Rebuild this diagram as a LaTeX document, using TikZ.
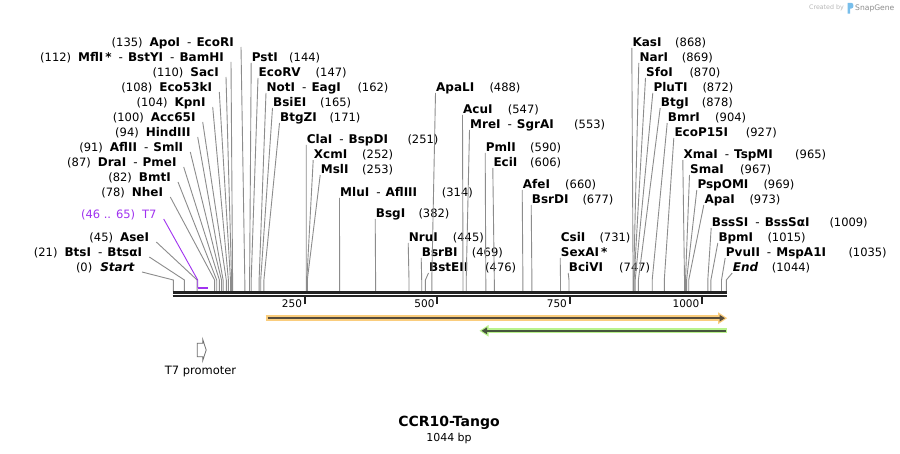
\documentclass[tikz,border=0pt]{standalone}
\usepackage{fontspec}
\setmainfont{DejaVu Sans}
\usetikzlibrary{calc,arrows.meta}
\definecolor{siteline}{RGB}{140,140,140}
\definecolor{bb}{RGB}{34,34,34}
\definecolor{purp}{RGB}{160,50,240}
\definecolor{orband}{RGB}{250,205,125}
\definecolor{grband}{RGB}{185,242,140}
\definecolor{orline}{RGB}{85,75,60}
\definecolor{grline}{RGB}{70,85,60}
\definecolor{logoblue}{RGB}{120,190,235}
\newcommand{\ensep}{\hspace{7pt}{\mdseries -}\hspace{5pt}}
% left-side label: id, end x, y, content, site x
\newcommand{\enzL}[5]{%
  \node[enz, anchor=east] (#1) at (#2,#3) {#4};
  \coordinate (#1k) at (#5,280);
  \coordinate (#1b) at (#5,291);
  \draw[site] ($(#1.east)+(7,5)$) -- (#1k) -- (#1b);
}
% top/right label: id, start x, y, name, site x, number x, number
\newcommand{\enzT}[7]{%
  \node[enz, anchor=west] (#1) at (#2,#3) {#4};
  \node[pnum, anchor=west] (#1n) at (#6,#3) {#7};
  \coordinate (#1k) at (#5,280);
  \coordinate (#1b) at (#5,291);
  \draw[site] ($(#1.west)+(-0.5,6)$) -- (#1k) -- (#1b);
}
\begin{document}
\begin{tikzpicture}[x=1pt,y=-1pt,
  enz/.style={font=\fontsize{12}{14}\selectfont\bfseries, inner sep=0pt, text height=8.6pt, text depth=0pt},
  pnum/.style={font=\fontsize{11.5}{13}\selectfont, inner sep=0pt, text height=8.6pt, text depth=0pt},
  ticklab/.style={font=\fontsize{10.5}{12}\selectfont, inner sep=0pt, text height=7.6pt, text depth=0pt},
  site/.style={draw=siteline, line width=0.9pt}]
\useasboundingbox (0,0) rectangle (900,454);
\fill[white] (0,0) rectangle (900,454);

% ---- left group
\enzL{ApoI}{234}{42}{{\mdseries\fontsize{11.5}{13}\selectfont (135)}\hspace{7pt}ApoI\ensep EcoRI}{244.8}
\enzL{MflI}{224}{57}{{\mdseries\fontsize{11.5}{13}\selectfont (112)}\hspace{7pt}MflI\,*\ensep BstYI\ensep BamHI}{232.6}
\enzL{SacI}{219}{72}{{\mdseries\fontsize{11.5}{13}\selectfont (110)}\hspace{7pt}SacI}{231.6}
\enzL{EcoFiftyThree}{212.3}{87}{{\mdseries\fontsize{11.5}{13}\selectfont (108)}\hspace{7pt}Eco53kI}{230.5}
\enzL{KpnI}{205.7}{102}{{\mdseries\fontsize{11.5}{13}\selectfont (104)}\hspace{7pt}KpnI}{228.4}
\enzL{AccSixtyFive}{195.7}{117}{{\mdseries\fontsize{11.5}{13}\selectfont (100)}\hspace{7pt}Acc65I}{226.3}
\enzL{HindIII}{190.7}{132}{{\mdseries\fontsize{11.5}{13}\selectfont (94)}\hspace{7pt}HindIII}{223.1}
\enzL{AflII}{183.3}{147}{{\mdseries\fontsize{11.5}{13}\selectfont (91)}\hspace{7pt}AflII\ensep SmlI}{221.5}
\enzL{DraI}{176.7}{162}{{\mdseries\fontsize{11.5}{13}\selectfont (87)}\hspace{7pt}DraI\ensep PmeI}{219.4}
\enzL{BmtI}{171}{177}{{\mdseries\fontsize{11.5}{13}\selectfont (82)}\hspace{7pt}BmtI}{216.7}
\enzL{NheI}{163.3}{192}{{\mdseries\fontsize{11.5}{13}\selectfont (78)}\hspace{7pt}NheI}{214.6}
\enzL{AseI}{149.3}{237}{{\mdseries\fontsize{11.5}{13}\selectfont (45)}\hspace{7pt}AseI}{197.1}
\enzL{BtsI}{142.3}{252}{{\mdseries\fontsize{11.5}{13}\selectfont (21)}\hspace{7pt}BtsI\ensep BtsαI}{184.4}
\enzL{Start}{135}{267}{{\mdseries\fontsize{11.5}{13}\selectfont (0)}\hspace{8pt}\textit{Start}}{173.3}

% ---- top middle group
\enzT{PstI}{251.7}{57}{PstI}{249.6}{289}{(144)}
\enzT{EcoRV}{258.5}{72}{EcoRV}{251.2}{315.5}{(147)}
\enzT{NotI}{266.5}{87}{NotI\ensep EagI}{259.1}{357.3}{(162)}
\enzT{BsiEI}{273}{102}{BsiEI}{260.7}{320}{(165)}
\enzT{BtgZI}{280}{117}{BtgZI}{263.9}{329.3}{(171)}
\enzT{ClaI}{306.7}{139}{ClaI\ensep BspDI}{306.3}{407.3}{(251)}
\enzT{XcmI}{313.7}{154}{XcmI}{306.8}{362}{(252)}
\enzT{MslI}{320.7}{169}{MslI}{307.3}{362}{(253)}
\enzT{MluI}{340}{192}{MluI\ensep AflIII}{339.6}{441.7}{(314)}
\enzT{BsgI}{375.7}{213}{BsgI}{375.6}{418.3}{(382)}
\enzT{NruI}{408.7}{237}{NruI}{409.0}{452.7}{(445)}
\enzT{BsrBI}{421.7}{252}{BsrBI}{421.7}{471.7}{(469)}
\enzT{BstEII}{429}{267}{BstEII}{425.4}{485}{(476)}
\enzT{ApaLI}{436}{87}{ApaLI}{431.8}{489.3}{(488)}
\enzT{AcuI}{463}{109}{AcuI}{463.0}{507.7}{(547)}
\enzT{MreI}{470}{124}{MreI\ensep SgrAI}{466.2}{574}{(553)}
\enzT{PmlI}{485.7}{147}{PmlI}{485.8}{530}{(590)}
\enzT{EciI}{493.3}{162}{EciI}{494.3}{530}{(606)}
\enzT{AfeI}{522.7}{184}{AfeI}{522.9}{565}{(660)}
\enzT{BsrDI}{531.7}{199}{BsrDI}{531.9}{582.3}{(677)}
\node[enz, anchor=west] (CsiI) at (560.7,237) {CsiI};
\node[pnum, anchor=west] (CsiIn) at (599.3,237) {(731)};
\node[enz, anchor=west] (SexAI) at (560.7,252) {SexAI\,*};
\coordinate (SexAIk) at (560.5,280);
\coordinate (SexAIb) at (560.5,291);
\draw[site] ($(SexAI.west)+(-0.5,6)$) -- (SexAIk) -- (SexAIb);
\enzT{BciVI}{568.7}{267}{BciVI}{569.0}{619}{(747)}

% ---- right group
\enzT{KasI}{632.3}{42}{KasI}{633.1}{675}{(868)}
\enzT{NarI}{639.3}{57}{NarI}{633.6}{681.7}{(869)}
\enzT{SfoI}{646}{72}{SfoI}{634.1}{689.3}{(870)}
\enzT{PluTI}{653.3}{87}{PluTI}{635.2}{702.3}{(872)}
\enzT{BtgI}{660.7}{102}{BtgI}{638.4}{701.7}{(878)}
\enzT{BmrI}{667.7}{117}{BmrI}{652.2}{715}{(904)}
\enzT{EcoPFifteen}{674.3}{132}{EcoP15I}{664.3}{745.7}{(927)}
\enzT{XmaI}{683.3}{154}{XmaI\ensep TspMI}{684.5}{795}{(965)}
\enzT{SmaI}{690}{169}{SmaI}{685.5}{740}{(967)}
\enzT{PspOMI}{697.3}{184}{PspOMI}{686.6}{763.3}{(969)}
\enzT{ApaI}{704.3}{199}{ApaI}{688.7}{749.3}{(973)}
\enzT{BssSI}{711.7}{222}{BssSI\ensep BssSαI}{707.8}{829.3}{(1009)}
\enzT{BpmI}{718.3}{237}{BpmI}{710.9}{767.3}{(1015)}
\enzT{PvuII}{725.7}{252}{PvuII\ensep MspA1I}{721.5}{848.3}{(1035)}
\enzT{End}{732.7}{267}{\textit{End}}{726.3}{771.7}{(1044)}

% ---- T7 feature (purple)
\node[pnum, anchor=east, text=purp] (T7) at (156.7,214) {(46 .. 65)\hspace{7pt}T7};
\coordinate (T7k) at (197.7,280);
\coordinate (T7b) at (197.7,287.7);
\coordinate (T7e) at (207.7,287.7);
\draw[purp, line width=0.9pt] ($(T7.east)+(7,5)$) -- (T7k) -- (T7b);
\draw[purp, line width=2.2pt] (T7b) -- (T7e);

% ---- backbone
\draw[bb, line width=2.6pt] (172.7,292.3) -- (726.7,292.3);
\draw[bb, line width=2.4pt] (172.7,296.2) -- (726.7,296.2);

% ---- ticks
\foreach \p in {250,500,750,1000} {
  \pgfmathsetmacro{\xx}{173.3+0.5297*\p-1}
  \draw[bb, line width=2pt] (\xx,297) -- (\xx,304.3);
  \node[ticklab, anchor=east] (tick\p) at (\xx-2.5,303.5) {\p};
}

% ---- orange feature (forward)
\draw[orband, line width=5.5pt] (265.5,318.2) -- (721,318.2);
\fill[orband] (718,312.2) -- (727.2,318.2) -- (718,324.2) -- cycle;
\draw[orline, line width=1.9pt, -{Triangle[length=5.5pt,width=6.5pt]}] (267.5,318.2) -- (725,318.2);

% ---- green feature (reverse)
\draw[grband, line width=5pt] (487,330.8) -- (727,330.8);
\fill[grband] (488.5,325) -- (479.5,330.8) -- (488.5,336.6) -- cycle;
\draw[grline, line width=1.9pt, -{Triangle[length=5.5pt,width=6.5pt]}] (725.5,330.8) -- (481.5,330.8);

% ---- T7 promoter
\draw[draw={rgb,255:red,110;green,110;blue,110}, fill=white, line width=0.8pt, line join=miter]
  (197.2,343.3) -- (202.7,343.3) -- (202.7,339.3) -- (206.2,350) -- (202.7,360.7) -- (202.7,356.7) -- (197.2,356.7) -- cycle;
\node[font=\fontsize{11.5}{13}\selectfont, inner sep=0pt] (T7p) at (200.5,372) {T7 promoter};

% ---- title
\node[font=\fontsize{14}{16}\selectfont\bfseries, inner sep=0pt] (title) at (449,423) {CCR10-Tango};
\node[font=\fontsize{11}{13}\selectfont, inner sep=0pt] (len) at (449,438.5) {1044 bp};

% ---- logo
\node[font=\fontsize{6.3}{7}\selectfont, text=black!28, inner sep=0pt, anchor=east] (cb) at (844,8) {Created by};
\fill[logoblue] (847.5,2.8) -- (851.3,2.8) .. controls (854.2,2.8) and (854.2,8.6) .. (851.3,8.6) -- (850,8.6) -- (850,13.6) -- (847.5,13.6) -- cycle;
\node[font=\fontsize{7.6}{8}\selectfont, text=black!45, inner sep=0pt, anchor=west] (sg) at (855,8.3) {SnapGene};
\end{tikzpicture}
\end{document}
